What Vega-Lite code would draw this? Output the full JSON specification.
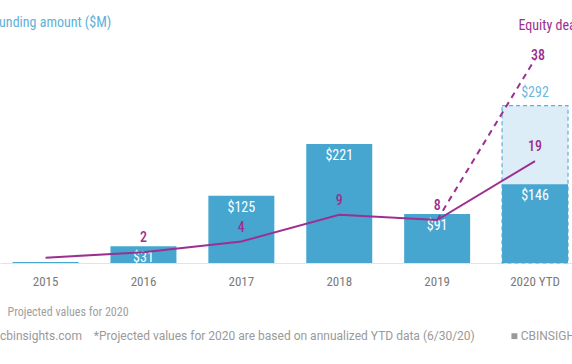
{
  "$schema": "https://vega.github.io/schema/vega-lite/v6.json",
  "width": 572,
  "height": 263,
  "autosize": {"type": "none"},
  "padding": {"top": 0, "left": 0, "right": 0, "bottom": 101},
  "config": {"view": {"stroke": null}, "font": "Roboto Condensed, Liberation Sans Narrow, DejaVu Sans Condensed, Roboto"},
  "data": {"values": [
    {"year": "2015", "funding": 2, "deals": 1},
    {"year": "2016", "funding": 31, "deals": 2},
    {"year": "2017", "funding": 125, "deals": 4},
    {"year": "2018", "funding": 221, "deals": 9},
    {"year": "2019", "funding": 91, "deals": 8, "projDeals": 8},
    {"year": "2020 YTD", "funding": 146, "deals": 19, "projFunding": 292, "projDeals": 38}
  ]},
  "title": {
    "text": "cbinsights.com\u00a0\u00a0\u00a0\u00a0*Projected values for 2020 are based on annualized YTD data (6/30/20)\u00a0\u00a0\u00a0\u00a0\u00a0\u00a0\u00a0\u00a0\u00a0\u00a0\u00a0\u00a0\u25A0 CBINSIGHTS",
    "orient": "bottom",
    "anchor": "start",
    "frame": "group",
    "offset": 14,
    "font": "Roboto",
    "fontSize": 12,
    "fontWeight": "normal",
    "color": "#9a9a9a"
  },
  "encoding": {
    "x": {
      "field": "year", "type": "nominal", "sort": null,
      "scale": {"domain": ["2015", "2016", "2017", "2018", "2019", "2020 YTD"], "paddingInner": 0.326, "paddingOuter": 0.0845, "align": 0.76},
      "axis": {
        "labelAngle": 0, "ticks": false, "domainColor": "#e3e3e3", "domainWidth": 1,
        "labelColor": "#7a7a7a", "labelFontSize": 13, "labelPadding": 12,
        "title": "Projected values for 2020", "titleAnchor": "start", "titleAlign": "left",
        "titleX": 7, "titleY": 48, "titleBaseline": "middle",
        "titleColor": "#a0a0a0", "titleFontSize": 12, "titleFontWeight": "normal"
      }
    }
  },
  "layer": [
    {
      "layer": [
        {
          "mark": {"type": "bar", "fill": "#dcedf8", "stroke": "#5fb0d8", "strokeDash": [4, 3], "strokeWidth": 1.2},
          "encoding": {"y": {"field": "projFunding", "type": "quantitative", "scale": {"domain": [0, 488]},
            "axis": {"title": "Funding amount ($M)", "orient": "left", "domain": false, "ticks": false, "labels": false, "grid": false, "titleAngle": 0, "titleAlign": "left", "titleBaseline": "middle", "titleX": -8, "titleY": 22, "titleColor": "#5db2d8", "titleFontSize": 14, "titleFontWeight": "normal"}}}
        },
        {
          "mark": {"type": "bar", "color": "#46a6d0"},
          "encoding": {"y": {"field": "funding", "type": "quantitative", "scale": {"domain": [0, 488]},
            "axis": {"title": "Funding amount ($M)", "orient": "left", "domain": false, "ticks": false, "labels": false, "grid": false, "titleAngle": 0, "titleAlign": "left", "titleBaseline": "middle", "titleX": -8, "titleY": 22, "titleColor": "#5db2d8", "titleFontSize": 14, "titleFontWeight": "normal"}}}
        },
        {
          "transform": [{"filter": "datum.year != '2015'"}],
          "mark": {"type": "text", "color": "#ffffff", "baseline": "top", "dy": 5, "fontSize": 14},
          "encoding": {
            "y": {"field": "funding", "type": "quantitative", "scale": {"domain": [0, 488]},
              "axis": {"title": "Funding amount ($M)", "orient": "left", "domain": false, "ticks": false, "labels": false, "grid": false, "titleAngle": 0, "titleAlign": "left", "titleBaseline": "middle", "titleX": -8, "titleY": 22, "titleColor": "#5db2d8", "titleFontSize": 14, "titleFontWeight": "normal"}},
            "text": {"field": "funding", "type": "quantitative", "format": "$d"}
          }
        },
        {
          "mark": {"type": "text", "color": "#6cb8dc", "baseline": "bottom", "dy": -6, "fontSize": 14},
          "encoding": {
            "y": {"field": "projFunding", "type": "quantitative", "scale": {"domain": [0, 488]},
              "axis": {"title": "Funding amount ($M)", "orient": "left", "domain": false, "ticks": false, "labels": false, "grid": false, "titleAngle": 0, "titleAlign": "left", "titleBaseline": "middle", "titleX": -8, "titleY": 22, "titleColor": "#5db2d8", "titleFontSize": 14, "titleFontWeight": "normal"}},
            "text": {"field": "projFunding", "type": "quantitative", "format": "$d"}
          }
        }
      ]
    },
    {
      "layer": [
        {
          "mark": {"type": "line", "color": "#9c2f8f", "strokeWidth": 2},
          "encoding": {"y": {"field": "deals", "type": "quantitative", "scale": {"domain": [0, 49]},
            "axis": {"title": "Equity deals", "orient": "right", "domain": false, "ticks": false, "labels": false, "grid": false, "titleAngle": 0, "titleAlign": "left", "titleBaseline": "middle", "titleX": -54, "titleY": 25, "titleColor": "#9c2f8f", "titleFontSize": 14, "titleFontWeight": "normal"}}}
        },
        {
          "mark": {"type": "line", "color": "#9c2f8f", "strokeWidth": 2, "strokeDash": [6, 5]},
          "encoding": {"y": {"field": "projDeals", "type": "quantitative", "scale": {"domain": [0, 49]},
            "axis": {"title": "Equity deals", "orient": "right", "domain": false, "ticks": false, "labels": false, "grid": false, "titleAngle": 0, "titleAlign": "left", "titleBaseline": "middle", "titleX": -54, "titleY": 25, "titleColor": "#9c2f8f", "titleFontSize": 14, "titleFontWeight": "normal"}}}
        },
        {
          "transform": [{"filter": "datum.year != '2015'"}],
          "mark": {"type": "text", "color": "#9c2f8f", "baseline": "bottom", "dy": -7, "fontSize": 14, "fontWeight": 500},
          "encoding": {
            "y": {"field": "deals", "type": "quantitative", "scale": {"domain": [0, 49]},
              "axis": {"title": "Equity deals", "orient": "right", "domain": false, "ticks": false, "labels": false, "grid": false, "titleAngle": 0, "titleAlign": "left", "titleBaseline": "middle", "titleX": -54, "titleY": 25, "titleColor": "#9c2f8f", "titleFontSize": 14, "titleFontWeight": "normal"}},
            "text": {"field": "deals", "type": "quantitative", "format": "d"}
          }
        },
        {
          "transform": [{"filter": "datum.year == '2020 YTD'"}],
          "mark": {"type": "text", "color": "#9c2f8f", "baseline": "middle", "dy": -3, "dx": 3, "fontSize": 14, "fontWeight": 500},
          "encoding": {
            "y": {"field": "projDeals", "type": "quantitative", "scale": {"domain": [0, 49]},
              "axis": {"title": "Equity deals", "orient": "right", "domain": false, "ticks": false, "labels": false, "grid": false, "titleAngle": 0, "titleAlign": "left", "titleBaseline": "middle", "titleX": -54, "titleY": 25, "titleColor": "#9c2f8f", "titleFontSize": 14, "titleFontWeight": "normal"}},
            "text": {"field": "projDeals", "type": "quantitative", "format": "d"}
          }
        }
      ]
    }
  ],
  "resolve": {"scale": {"y": "independent"}, "axis": {"y": "independent"}}
}
